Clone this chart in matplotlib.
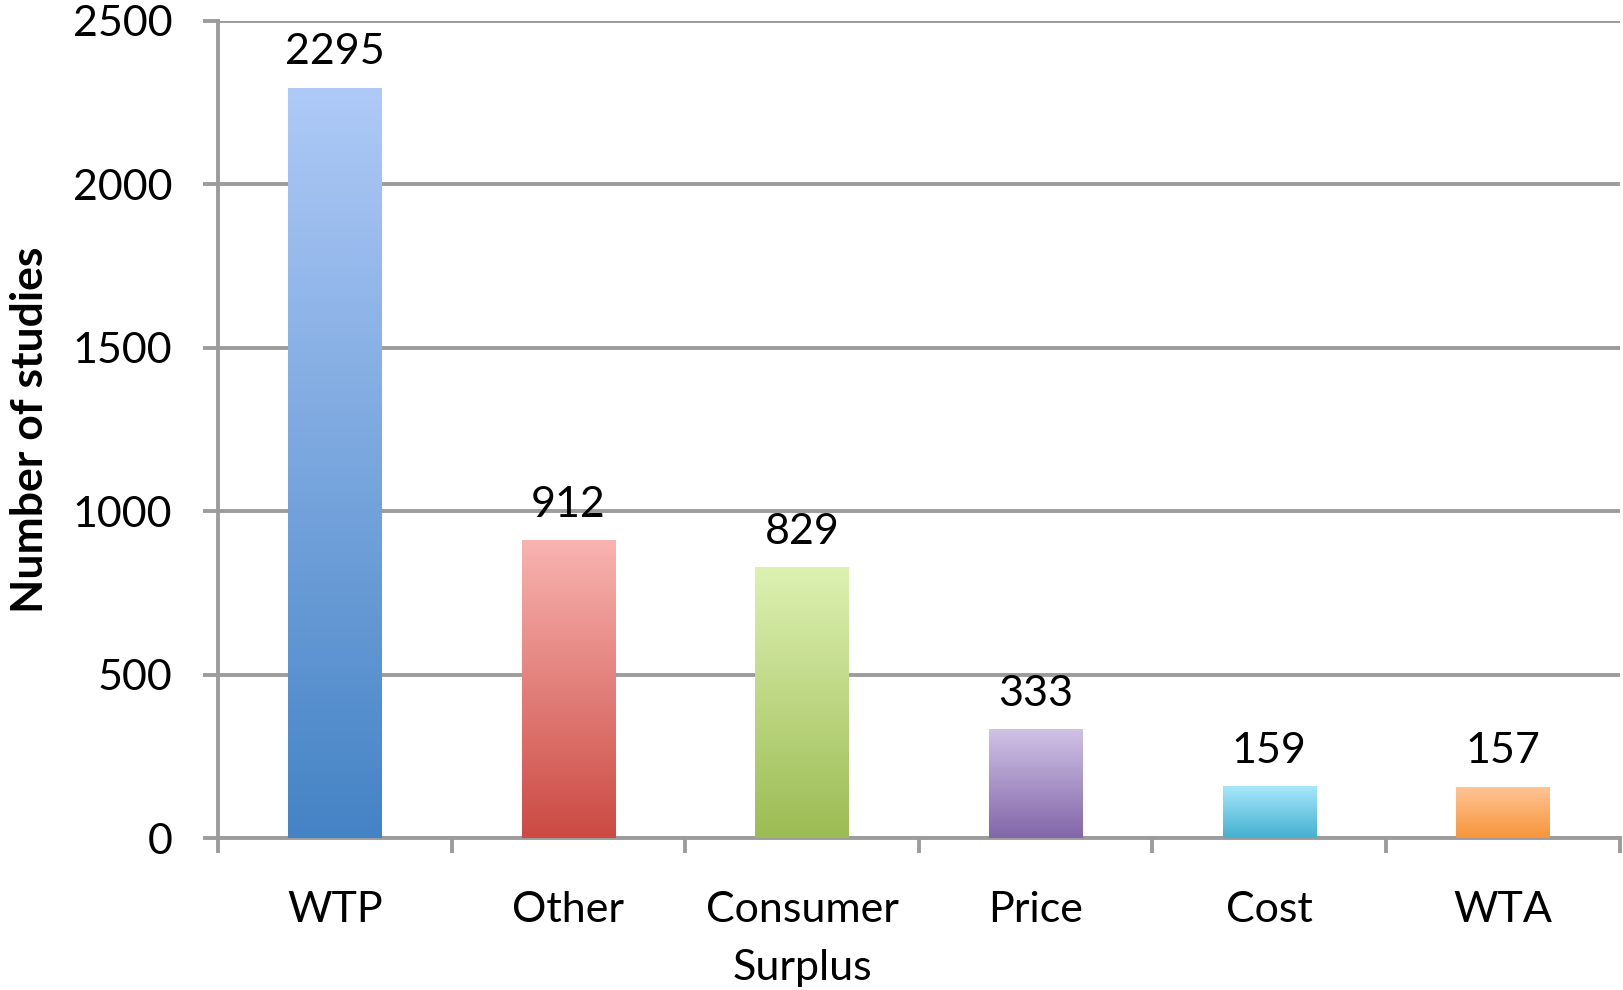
import numpy as np
import matplotlib.pyplot as plt
from matplotlib.colors import LinearSegmentedColormap

categories = ['WTP', 'Other', 'Consumer\nSurplus', 'Price', 'Cost', 'WTA']
counts = [2295, 912, 829, 333, 159, 157]
top_colors = ['#afcaf7', '#f9b4b1', '#ddf1b2', '#d0c2e6', '#a8e7fc', '#ffc596']
bottom_colors = ['#4483c5', '#cb4a43', '#9cbc53', '#8266a9', '#44b0cf', '#f7953a']

plt.rcParams['font.family'] = ['Lato', 'DejaVu Sans']
grid_col = '#9c9c9c'

fig = plt.figure(figsize=(16.23, 9.90), dpi=100)
ax = fig.add_axes([0.1343, 0.1535, 0.8637, 0.8255])

x = np.arange(len(categories))
bars = ax.bar(x, counts, width=0.4, color='none', zorder=3)

grad = np.linspace(1, 0, 256).reshape(-1, 1)
for b, c_top, c_bot, v in zip(bars, top_colors, bottom_colors, counts):
    cmap = LinearSegmentedColormap.from_list('g', [c_bot, c_top])
    x0, w, h = b.get_x(), b.get_width(), b.get_height()
    im = ax.imshow(grad, cmap=cmap, aspect='auto', extent=[x0, x0 + w, 0, h],
                   zorder=3, interpolation='bicubic')
    im.set_clip_path(b)
    ax.text(x0 + w / 2, h + 50, str(v), ha='center', va='bottom', fontsize=31)

ax.set_xlim(-0.5, len(categories) - 0.5)
ax.set_ylim(0, 2500)
ax.set_yticks(np.arange(0, 2501, 500))
ax.yaxis.grid(True, color=grid_col, linewidth=2.8, zorder=0)
ax.set_axisbelow(True)

ax.set_xticks(x)
ax.set_xticklabels(categories, fontsize=31, linespacing=1.65)
ax.set_xticks(np.arange(-0.5, len(categories)), minor=True)
ax.tick_params(axis='x', which='major', length=0, pad=38)
ax.tick_params(axis='x', which='minor', length=11, width=2.8, color=grid_col)
ax.tick_params(axis='y', length=11, width=2.8, color=grid_col, labelsize=31, pad=22)

for s in ['top', 'right']:
    ax.spines[s].set_visible(False)
for s in ['left', 'bottom']:
    ax.spines[s].set_color(grid_col)
    ax.spines[s].set_linewidth(2.8)

ax.set_ylabel('Number of studies', fontsize=32, fontweight='bold', labelpad=16)

fig.savefig('out.png', dpi=100)
